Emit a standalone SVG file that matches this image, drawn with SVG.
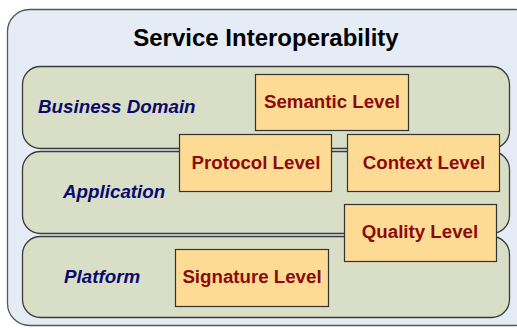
<svg xmlns="http://www.w3.org/2000/svg" width="517" height="328" viewBox="0 0 517 328">
<style>
.band{fill:#D9DEC7;stroke:#3a3a3a;stroke-width:1.3}
.box{fill:#FEDB95;stroke:#333;stroke-width:1.2}
.lvl{font-family:"Liberation Sans",Arial,sans-serif;font-weight:bold;font-size:18.7px;fill:#8B0A0A;text-anchor:middle}
.lay{font-family:"Liberation Sans",Arial,sans-serif;font-weight:bold;font-style:italic;font-size:18.8px;fill:#0A0A6E}
</style>
<rect width="517" height="328" fill="#fff"/>
<g id="outer">
<rect x="7.5" y="9.5" width="530" height="316" rx="22" fill="#E6ECF6" stroke="#555" stroke-width="1.3"/>
<text x="266" y="46" font-family="'Liberation Sans',Arial,sans-serif" font-weight="bold" font-size="24" fill="#000" text-anchor="middle">Service Interoperability</text>
</g>
<g id="business">
<rect class="band" x="22.5" y="66.5" width="487" height="82" rx="18"/>
<text class="lay" x="38" y="113">Business Domain</text>
</g>
<g id="application">
<rect class="band" x="22.5" y="151.5" width="487" height="82" rx="18"/>
<text class="lay" x="63" y="198">Application</text>
</g>
<g id="platform">
<rect class="band" x="22.5" y="236.5" width="487" height="81" rx="18"/>
<text class="lay" x="64" y="283">Platform</text>
</g>
<g id="semantic">
<rect class="box" x="255.5" y="74.5" width="153" height="56"/>
<text class="lvl" x="332" y="108">Semantic Level</text>
</g>
<g id="protocol">
<rect class="box" x="179.5" y="134.5" width="152" height="57"/>
<text class="lvl" x="256" y="169">Protocol Level</text>
</g>
<g id="context">
<rect class="box" x="347.5" y="134.5" width="152" height="57"/>
<text class="lvl" x="424" y="169">Context Level</text>
</g>
<g id="quality">
<rect class="box" x="344.5" y="204.5" width="152" height="57"/>
<text class="lvl" x="420" y="238">Quality Level</text>
</g>
<g id="signature">
<rect class="box" x="175.5" y="249.5" width="153" height="57"/>
<text class="lvl" x="252" y="283">Signature Level</text>
</g>
<g id="connectors"/>
</svg>
